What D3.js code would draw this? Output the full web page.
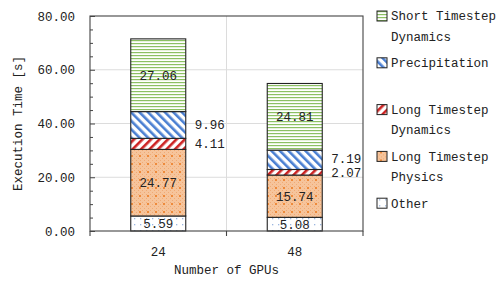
<!DOCTYPE html>
<html>
<head>
<meta charset="utf-8">
<script src="https://cdn.jsdelivr.net/npm/d3@7"></script>
<style>
  body { margin: 0; background: #fff; }
  text { font-family: "Liberation Mono", "DejaVu Sans Mono", monospace; fill: #222; }
</style>
</head>
<body>
<div id="container"></div>
<script>
// DATA
const gpus = ["24", "48"];
const parts = ["Other", "Long Timestep Physics", "Long Timestep Dynamics", "Precipitation", "Short Timestep Dynamics"];
const other = [5.59, 5.08];
const ltPhysics = [24.77, 15.74];
const ltDynamics = [4.11, 2.07];
const precip = [9.96, 7.19];
const stDynamics = [27.06, 24.81];
const yTicks = [0, 20, 40, 60, 80];

// legend is drawn top to bottom, lines per entry
const legendItems = [
  { key: "Short Timestep Dynamics", lines: ["Short Timestep", "Dynamics"] },
  { key: "Precipitation", lines: ["Precipitation"] },
  { key: "Long Timestep Dynamics", lines: ["Long Timestep", "Dynamics"] },
  { key: "Long Timestep Physics", lines: ["Long Timestep", "Physics"] },
  { key: "Other", lines: ["Other"] }
];

// which labels sit inside the bar, which go to the right
const outside = { "Precipitation": true, "Long Timestep Dynamics": true };

// build stack table
const table = gpus.map(function(g, i) {
  return {
    gpus: g,
    "Other": other[i],
    "Long Timestep Physics": ltPhysics[i],
    "Long Timestep Dynamics": ltDynamics[i],
    "Precipitation": precip[i],
    "Short Timestep Dynamics": stDynamics[i]
  };
});

//SVG
const width = 498;
const height = 284;
const plotL = 90, plotR = 363, plotT = 16, plotB = 231;

const svg = d3.select("div#container").append("svg")
    .attr("width", width)
    .attr("height", height);

// PATTERNS
const defs = svg.append("defs");

// green horizontal lines
let p = defs.append("pattern").attr("id", "pat-std")
    .attr("patternUnits", "userSpaceOnUse").attr("width", 6).attr("height", 3);
p.append("rect").attr("width", 6).attr("height", 3).attr("fill", "#fff");
p.append("rect").attr("y", 1).attr("width", 6).attr("height", 1.2).attr("fill", "#8cc063");

// blue "\" lines
p = defs.append("pattern").attr("id", "pat-pre")
    .attr("patternUnits", "userSpaceOnUse").attr("width", 6).attr("height", 6)
    .attr("patternTransform", "rotate(-45)");
p.append("rect").attr("width", 6).attr("height", 6).attr("fill", "#fff");
p.append("rect").attr("x", 0).attr("width", 2.6).attr("height", 6).attr("fill", "#4a7fd2");

// red "/" lines
p = defs.append("pattern").attr("id", "pat-ltd")
    .attr("patternUnits", "userSpaceOnUse").attr("width", 6).attr("height", 6)
    .attr("patternTransform", "rotate(45)");
p.append("rect").attr("width", 6).attr("height", 6).attr("fill", "#fff");
p.append("rect").attr("x", 0).attr("width", 2.6).attr("height", 6).attr("fill", "#cc2222");

// orange dots on checker
p = defs.append("pattern").attr("id", "pat-ltp")
    .attr("patternUnits", "userSpaceOnUse").attr("width", 8).attr("height", 8);
p.append("rect").attr("width", 8).attr("height", 8).attr("fill", "#f6c49b");
[[0,0],[2,2],[4,0],[6,2],[0,4],[2,6],[4,4],[6,6]].forEach(function(c) {
  p.append("rect").attr("x", c[0]).attr("y", c[1]).attr("width", 1).attr("height", 1).attr("fill", "#f0aa75");
});
p.append("rect").attr("x", 3).attr("y", 3).attr("width", 2).attr("height", 2).attr("fill", "#ee8a3a");

// sparse blue dots
p = defs.append("pattern").attr("id", "pat-oth")
    .attr("patternUnits", "userSpaceOnUse").attr("width", 6).attr("height", 6);
p.append("rect").attr("width", 6).attr("height", 6).attr("fill", "#fff");
p.append("rect").attr("x", 2).attr("y", 2).attr("width", 1.3).attr("height", 1.3).attr("fill", "#9bb6e0");

const fills = {
  "Short Timestep Dynamics": "url(#pat-std)",
  "Precipitation": "url(#pat-pre)",
  "Long Timestep Dynamics": "url(#pat-ltd)",
  "Long Timestep Physics": "url(#pat-ltp)",
  "Other": "url(#pat-oth)"
};

//SCALES
const xScale = d3.scaleBand().domain(gpus).range([plotL, plotR]).padding(0);
const yScale = d3.scaleLinear().domain([0, 80]).range([plotB, plotT]);
const barW = 55;

// GRID
svg.append("g")
  .selectAll("line.hgrid")
  .data(yTicks.slice(1, -1))
  .enter().append("line")
    .attr("x1", plotL).attr("x2", plotR)
    .attr("y1", function(d) { return yScale(d); })
    .attr("y2", function(d) { return yScale(d); })
    .attr("stroke", "#dcdcdc").attr("stroke-width", 1);

svg.append("g")
  .selectAll("line.vgrid")
  .data(gpus.slice(1))
  .enter().append("line")
    .attr("x1", function(d) { return xScale(d); })
    .attr("x2", function(d) { return xScale(d); })
    .attr("y1", plotT).attr("y2", plotB)
    .attr("stroke", "#dcdcdc").attr("stroke-width", 1);

// BARS
const stack = d3.stack().keys(parts);
const series = stack(table);

const layer = svg.append("g")
  .selectAll("g.layer")
  .data(series)
  .enter().append("g")
    .attr("fill", function(d) { return fills[d.key]; });

layer.selectAll("rect")
  .data(function(d) { return d; })
  .enter().append("rect")
    .attr("x", function(d) { return xScale(d.data.gpus) + xScale.bandwidth() / 2 - barW / 2; })
    .attr("y", function(d) { return yScale(d[1]); })
    .attr("width", barW)
    .attr("height", function(d) { return yScale(d[0]) - yScale(d[1]); })
    .attr("stroke", "#222").attr("stroke-width", 1.1);

// VALUE LABELS
// outside labels per bar get pushed apart a bit if they crowd each other
const outLabels = {};
series.forEach(function(s) {
  s.forEach(function(d) {
    const v = d[1] - d[0];
    const cx = xScale(d.data.gpus) + xScale.bandwidth() / 2;
    const ymid = yScale((d[0] + d[1]) / 2);
    if (outside[s.key]) {
      (outLabels[d.data.gpus] = outLabels[d.data.gpus] || []).push({ x: cx + barW / 2 + 9, y: ymid, v: v });
    } else {
      svg.append("text")
        .attr("x", cx).attr("y", ymid)
        .attr("dy", "0.35em")
        .attr("text-anchor", "middle")
        .attr("font-size", 12.5)
        .text(v.toFixed(2));
    }
  });
});

Object.keys(outLabels).forEach(function(k) {
  const ls = outLabels[k]; // bottom label first, then upper
  const gap = ls[0].y - ls[1].y;
  if (gap < 14) {
    const push = (14 - gap) / 2;
    ls[0].y += push;
    ls[1].y -= push;
  }
  ls.forEach(function(l) {
    svg.append("text")
      .attr("x", l.x).attr("y", l.y)
      .attr("dy", "0.35em")
      .attr("font-size", 12.5)
      .text(l.v.toFixed(2));
  });
});

// FRAME
svg.append("rect")
  .attr("x", plotL).attr("y", plotT)
  .attr("width", plotR - plotL).attr("height", plotB - plotT)
  .attr("fill", "none").attr("stroke", "#444").attr("stroke-width", 1.1);

//AXES
const yAxisGen = d3.axisLeft(yScale).tickValues(yTicks).tickSize(-5).tickPadding(15)
  .tickFormat(d3.format(".2f"));
const yAxis = svg.append("g")
  .attr("transform", "translate(" + plotL + ",0)")
  .call(yAxisGen);
yAxis.select(".domain").remove();
yAxis.selectAll(".tick line").attr("stroke", "#444");
yAxis.selectAll(".tick text").attr("font-size", 12.5).attr("font-family", null);

// minor ticks
const minorGen = d3.axisLeft(yScale).tickValues(d3.range(5, 80, 5).filter(function(v) { return v % 20 !== 0; }))
  .tickSize(-3).tickFormat("");
const yMinor = svg.append("g")
  .attr("transform", "translate(" + plotL + ",0)")
  .call(minorGen);
yMinor.select(".domain").remove();
yMinor.selectAll(".tick line").attr("stroke", "#444");

// x axis labels
const xAxisGen = d3.axisBottom(xScale).tickSize(0).tickPadding(16);
const xAxis = svg.append("g")
  .attr("transform", "translate(0," + plotB + ")")
  .call(xAxisGen);
xAxis.select(".domain").remove();
xAxis.selectAll(".tick text").attr("font-size", 12.5).attr("font-family", null);

// x boundary ticks
svg.append("g")
  .selectAll("line.xtick")
  .data(gpus.map(function(g) { return xScale(g); }).concat([plotR]))
  .enter().append("line")
    .attr("x1", function(d) { return d; }).attr("x2", function(d) { return d; })
    .attr("y1", plotB).attr("y2", plotB + 5)
    .attr("stroke", "#444").attr("stroke-width", 1.1);

// AXIS TITLES
svg.append("text")
  .attr("x", (plotL + plotR) / 2).attr("y", 274)
  .attr("text-anchor", "middle").attr("font-size", 12.5)
  .text("Number of GPUs");

svg.append("text")
  .attr("transform", "translate(18," + ((plotT + plotB) / 2) + ") rotate(-90)")
  .attr("text-anchor", "middle").attr("dy", "0.35em").attr("font-size", 12.5)
  .text("Execution Time [s]");

// LEGEND
const legend = svg.append("g")
  .selectAll("g.leg")
  .data(legendItems)
  .enter().append("g")
    .attr("transform", function(d, i) { return "translate(377," + (16 + i * 46.8) + ")"; });

legend.append("rect")
  .attr("x", 0).attr("y", -5).attr("width", 10).attr("height", 10)
  .attr("fill", function(d) { return fills[d.key]; })
  .attr("stroke", "#222").attr("stroke-width", 1);

legend.each(function(d) {
  const g = d3.select(this);
  d.lines.forEach(function(t, j) {
    g.append("text")
      .attr("x", 14).attr("y", j * 20.5)
      .attr("dy", "0.35em").attr("font-size", 12.5)
      .text(t);
  });
});
</script>
</body>
</html>
